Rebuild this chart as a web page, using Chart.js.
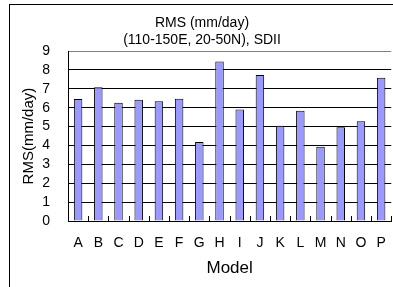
<!DOCTYPE html>
<html lang="en">
<head>
  <meta charset="UTF-8">
  <title>RMS (mm/day) SDII</title>
  <script src="https://cdn.jsdelivr.net/npm/chart.js"></script>
  <style>
    html, body { margin: 0; padding: 0; background: #fff; overflow: hidden; }
    .frame {
      position: absolute; left: 9px; top: 4px;
      width: 420px; height: 320px;
      border: 1px solid #000;
    }
    #grafico { position: absolute; left: 10px; top: 5px; }
  </style>
</head>
<body>

<div class="frame"></div>
<canvas id="grafico" width="390" height="282"></canvas>

<script>
  // dados
  const modelos = ['A','B','C','D','E','F','G','H','I','J','K','L','M','N','O','P'];
  const rms = [6.46, 7.08, 6.26, 6.42, 6.35, 6.48, 4.18, 8.45, 5.91, 7.73, 5.05, 5.84, 3.93, 4.96, 5.28, 7.59];
  const tituloLinhas = ['RMS (mm/day)', '(110-150E, 20-50N), SDII'];
  const yMin = 0, yMax = 9, yPasso = 1;

  const fonte = 'Liberation Sans, Arial, sans-serif';

  // marcas curtas para dentro, entre as categorias do eixo x
  const marcasInternas = {
    id: 'marcasInternas',
    afterDatasetsDraw(chart) {
      const x = chart.scales.x;
      const ctx = chart.ctx;
      const meio = (x.getPixelForValue(1) - x.getPixelForValue(0)) / 2;
      ctx.save();
      ctx.strokeStyle = '#000';
      ctx.lineWidth = 1;
      ctx.beginPath();
      for (let i = 0; i <= modelos.length; i++) {
        const px = Math.round(x.getPixelForValue(i) - meio) + 0.5;
        ctx.moveTo(px, x.top);
        ctx.lineTo(px, x.top - 5);
      }
      ctx.stroke();
      ctx.restore();
    }
  };

  new Chart(document.getElementById('grafico').getContext('2d'), {
    type: 'bar',
    data: {
      labels: modelos,
      datasets: [{
        data: rms,
        backgroundColor: '#9999FF',
        borderColor: '#000',
        borderWidth: 1,
        categoryPercentage: 1,
        barPercentage: 0.42
      }]
    },
    options: {
      responsive: false,
      animation: false,
      devicePixelRatio: 1,
      layout: { padding: { left: 0, right: 6, top: 0, bottom: 0 } },
      plugins: {
        legend: { display: false },
        tooltip: { enabled: false },
        title: {
          display: true,
          text: tituloLinhas,
          color: '#000',
          font: { family: fonte, size: 14, weight: 'normal', lineHeight: 1.2 },
          padding: { top: 9.5, bottom: 3 }
        }
      },
      scales: {
        x: {
          grid: { drawOnChartArea: false, drawTicks: false },
          border: { color: '#000', width: 1 },
          ticks: { color: '#000', font: { family: fonte, size: 14 }, padding: 14, autoSkip: false, maxRotation: 0 },
          title: {
            display: true,
            text: 'Model',
            color: '#000',
            font: { family: fonte, size: 17 },
            padding: { top: 0, bottom: 8 }
          },
          afterFit: s => { s.height = 66; }
        },
        y: {
          min: yMin,
          max: yMax,
          grid: {
            drawTicks: false,
            color: ctx => (ctx.tick && ctx.tick.value === yMax) ? '#808080' : '#000'
          },
          border: { color: '#000', width: 1 },
          ticks: { stepSize: yPasso, autoSkip: false, color: '#000', font: { family: fonte, size: 14 }, padding: 18 },
          title: {
            display: true,
            text: 'RMS(mm/day)',
            color: '#000',
            font: { family: fonte, size: 15 },
            padding: { top: 9.5, bottom: 0 }
          },
          afterFit: s => { s.width = 58; }
        }
      }
    },
    plugins: [marcasInternas]
  });
</script>

</body>
</html>
